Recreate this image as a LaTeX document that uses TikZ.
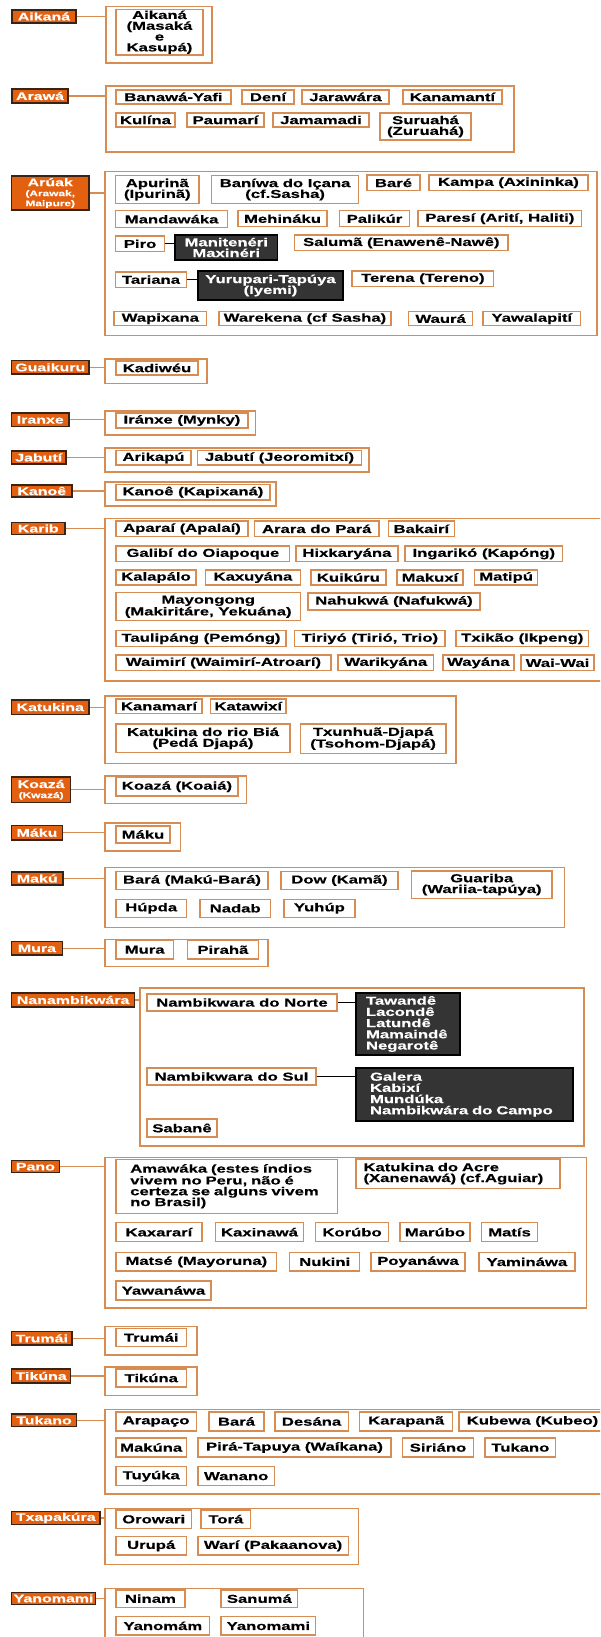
\documentclass[tikz,border=0pt]{standalone}
\usepackage{fontspec}
\newfontfamily\tfont[FakeStretch=1.45,FakeBold=0.4]{Liberation Sans Bold}
\definecolor{tanc}{RGB}{214,140,82}
\definecolor{orgc}{RGB}{226,96,16}
\definecolor{lbc}{RGB}{58,34,20}
\definecolor{dkc}{RGB}{52,52,52}
\tikzset{
 ibox/.style={draw=tanc,line width=1.4pt,fill=white,inner sep=1pt,text=black,align=center,font=\tfont\fontsize{11.5}{10.8}\selectfont},
 dbox/.style={draw=black,line width=1.6pt,fill=dkc,text=white},
 labbox/.style={draw=lbc,line width=1.2pt,fill=orgc,text=white,inner sep=1pt,align=center,font=\tfont\fontsize{11}{10}\selectfont},
 grpbox/.style={draw=tanc,line width=1.2pt,inner sep=0pt},
 conn/.style={draw=tanc,line width=1.2pt},
 dconn/.style={draw=black,line width=1.3pt},
}
\newcommand\Ibox[7][]{\node[ibox,minimum width={#5-#3},minimum height={#6-#4},#1] (#2) at ({(#3+#5)/2},{(#4+#6)/2}) {#7};}
\newcommand\Gbox[5]{\node[grpbox,minimum width={#4-#2},minimum height={#5-#3}] (#1) at ({(#2+#4)/2},{(#3+#5)/2}) {};}
\newcommand\Lbox[6]{\node[labbox,minimum width={#4-#2},minimum height={#5-#3}] (#1) at ({(#2+#4)/2},{(#3+#5)/2}) {#6};}
\newcommand\Conn[2]{\draw[conn] (#1.east) -- (#1.east -| #2.west);}
\newcommand\smallt{\fontsize{8.2}{7.5}\selectfont}
\begin{document}
\begin{tikzpicture}[x=1pt,y=-1pt]
\useasboundingbox (0,0) rectangle (600,1637);
\fill[white] (0,0) rectangle (600,1637);
\clip (0,0) rectangle (600,1637);

% Aikana
\Gbox{gA}{106}{6.7}{212}{63}
\Lbox{lA}{12}{10}{76}{23}{Aikaná}
\Ibox{a1}{116}{9.3}{203}{55}{Aikaná\\(Masaká\\e\\Kasupá)}
\Conn{lA}{gA}

% Arawa
\Gbox{gB}{106}{86}{514}{152}
\Lbox{lB}{12}{89}{68}{103}{Arawá}
\Ibox{b1}{116}{90}{231}{104}{Banawá-Yafi}
\Ibox{b2}{242}{90}{294}{104}{Dení}
\Ibox{b3}{302}{90}{389}{104}{Jarawára}
\Ibox{b4}{403}{90}{502}{104}{Kanamantí}
\Ibox{b5}{116}{113}{175}{127}{Kulína}
\Ibox{b6}{187}{113}{264}{127}{Paumarí}
\Ibox{b7}{273}{113}{369}{127}{Jamamadi}
\Ibox{b8}{380}{113}{471}{140}{Suruahá\\(Zuruahá)}
\Conn{lB}{gB}

% Aruak
\Gbox{gC}{105}{171.7}{597}{335.7}
\Lbox{lC}{11.5}{176}{89}{210}{Arúak\\{\smallt(Arawak,}\\{\smallt Maipure)}}
\Ibox{c1}{115.6}{175.7}{199}{203.3}{Apurinã\\(Ipurinã)}
\Ibox{c2}{211.6}{175.7}{358.6}{203.3}{Baníwa do Içana\\(cf.Sasha)}
\Ibox{c3}{367}{175}{420}{190.7}{Baré}
\Ibox{c4}{429}{175}{588}{190.7}{Kampa (Axininka)}
\Ibox{c5}{115.6}{210.7}{227.7}{227.7}{Mandawáka}
\Ibox{c6}{238}{210.7}{327}{226.7}{Mehináku}
\Ibox{c7}{339.5}{210.7}{409.5}{226.7}{Palikúr}
\Ibox{c8}{418}{210.7}{581.7}{226.7}{Paresí (Arití, Haliti)}
\Ibox{c9}{115.6}{236}{164.6}{251.7}{Piro}
\Ibox[dbox]{c10}{175}{235}{277.5}{260}{Manitenéri\\Maxinéri}
\Ibox{c11}{294.7}{235}{508}{250.7}{Salumã (Enawenê-Nawê)}
\Ibox{c12}{115.6}{272}{186.4}{287.3}{Tariana}
\Ibox[dbox]{c13}{198}{271}{343}{300}{Yurupari-Tapúya\\(Iyemi)}
\Ibox{c14}{352}{271}{493.7}{286.7}{Terena (Tereno)}
\Ibox{c15}{114}{311.7}{206.7}{325.7}{Wapixana}
\Ibox{c16}{219}{311.7}{391}{325.7}{Warekena (cf Sasha)}
\Ibox{c17}{408.7}{311.7}{472.6}{325.7}{Waurá}
\Ibox{c18}{483}{311.7}{580.6}{325.7}{Yawalapití}
\Conn{lC}{gC}
\draw[dconn] (c9.east) -- (c9.east -| c10.west);
\draw[dconn] (c12.east) -- (c12.east -| c13.west);

% Guaikuru
\Gbox{gD}{105}{359}{207}{383.3}
\Lbox{lD}{11.5}{360.7}{89}{374}{Guaikuru}
\Ibox{d1}{116}{361}{198}{375}{Kadiwéu}
\Conn{lD}{gD}

% Iranxe
\Gbox{gE}{105}{411}{255.6}{435}
\Lbox{lE}{11.5}{413}{69}{426.7}{Iranxe}
\Ibox{e1}{116}{413}{248}{428}{Iránxe (Mynky)}
\Conn{lE}{gE}

% Jabuti
\Gbox{gF}{105}{448}{369}{472}
\Lbox{lF}{11.5}{451}{66}{464}{Jabutí}
\Ibox{f1}{116}{450.7}{191}{465}{Arikapú}
\Ibox{f2}{197.5}{450.7}{361.6}{465}{Jabutí (Jeoromitxí)}
\Conn{lF}{gF}

% Kanoe
\Gbox{gG}{105}{482}{276}{506}
\Lbox{lG}{11.5}{485}{72}{497}{Kanoê}
\Ibox{g1}{116}{484.5}{270}{500}{Kanoê (Kapixaná)}
\Conn{lG}{gG}

% Karib
\Gbox{gH}{105}{518.3}{620}{681}
\Lbox{lH}{11.5}{522.7}{65}{534.3}{Karib}
\Ibox{h1}{116}{521}{248}{536.7}{Aparaí (Apalaí)}
\Ibox{h2}{254.5}{521}{379}{536.7}{Arara do Pará}
\Ibox{h3}{388.4}{521}{454.3}{536.7}{Bakairí}
\Ibox{h4}{116}{546}{289.7}{561.7}{Galibí do Oiapoque}
\Ibox{h5}{295.8}{546}{398}{561.7}{Hixkaryána}
\Ibox{h6}{405}{546}{562.6}{561.7}{Ingarikó (Kapóng)}
\Ibox{h7}{116}{570}{196}{585}{Kalapálo}
\Ibox{h8}{205.5}{570}{300.4}{585}{Kaxuyána}
\Ibox{h9}{311}{570}{385.8}{585}{Kuikúru}
\Ibox{h10}{396.9}{570}{463}{585}{Makuxí}
\Ibox{h11}{474.6}{570}{537.7}{585}{Matipú}
\Ibox{h12}{116}{592.7}{300.4}{620.7}{Mayongong\\(Makiritáre, Yekuána)}
\Ibox{h13}{308}{593}{480}{610}{Nahukwá (Nafukwá)}
\Ibox{h14}{116}{630.7}{286}{646.7}{Taulipáng (Pemóng)}
\Ibox{h15}{294.7}{630.7}{445}{646.7}{Tiriyó (Tirió, Trio)}
\Ibox{h16}{456}{630.7}{588.6}{646.7}{Txikão (Ikpeng)}
\Ibox{h17}{116}{655}{331}{670.7}{Waimirí (Waimirí-Atroarí)}
\Ibox{h18}{338}{655}{433.6}{670.7}{Warikyána}
\Ibox{h19}{442.8}{655}{514}{670.7}{Wayána}
\Ibox{h20}{521}{655}{594}{670.7}{Wai-Wai}
\Conn{lH}{gH}

% Katukina
\Gbox{gI}{105}{696}{456}{763.3}
\Lbox{lI}{11.5}{700}{89}{714.3}{Katukina}
\Ibox{i1}{116}{699}{202}{713.3}{Kanamarí}
\Ibox{i2}{210.5}{699}{286}{713.3}{Katawixí}
\Ibox{i3}{116}{724}{290}{752.7}{Katukina do rio Biá\\(Pedá Djapá)}
\Ibox{i4}{300.4}{724}{445.8}{753.3}{Txunhuã-Djapá\\(Tsohom-Djapá)}
\Conn{lI}{gI}

% Koaza
\Gbox{gJ}{105}{776}{246.8}{803.3}
\Lbox{lJ}{11.5}{777}{70.8}{802.7}{Koazá\\{\smallt(Kwazá)}}
\Ibox{j1}{116}{777.3}{238}{796}{Koazá (Koaiá)}
\Conn{lJ}{gJ}

% Maku
\Gbox{gK}{105}{823}{180.6}{851}
\Lbox{lK}{11.5}{825.5}{62.4}{840}{Máku}
\Ibox{k1}{116}{826}{170}{843}{Máku}
\Conn{lK}{gK}

% Makú
\Gbox{gL}{105}{867.3}{564.5}{927.3}
\Lbox{lL}{11.5}{872}{63}{885}{Makú}
\Ibox{m1}{116}{871.7}{268}{889.3}{Bará (Makú-Bará)}
\Ibox{m2}{281}{871.7}{398}{889.3}{Dow (Kamã)}
\Ibox{m3}{411.4}{871}{552}{898.3}{Guariba\\(Wariia-tapúya)}
\Ibox{m4}{116}{899.3}{186.4}{917.3}{Húpda}
\Ibox{m5}{199.8}{899.3}{270.6}{917.3}{Nadab}
\Ibox{m6}{284}{899.3}{354.8}{917.3}{Yuhúp}
\Conn{lL}{gL}

% Mura
\Gbox{gM}{105}{939.3}{268}{966.7}
\Lbox{lM}{11.5}{941.7}{62.4}{955}{Mura}
\Ibox{n1}{116}{940.5}{173.4}{959}{Mura}
\Ibox{n2}{187.5}{940.5}{258.3}{959}{Pirahã}
\Conn{lM}{gM}

% Nanambikwara
\Gbox{gN}{140}{988}{584}{1146}
\Lbox{lN}{11.5}{993}{134.7}{1007}{Nanambikwára}
\Ibox{o1}{147}{994}{337}{1011}{Nambikwara do Norte}
\Ibox[dbox,align=left,text width=84pt,inner xsep=10pt,font=\tfont\fontsize{11.5}{11.2}\selectfont]{o2}{356}{993}{460}{1055}{Tawandê\\Lacondê\\Latundê\\Mamaindê\\Negarotê}
\Ibox{o3}{147}{1068}{316}{1085}{Nambikwara do Sul}
\Ibox[dbox,align=left,text width=189pt,inner xsep=14pt,font=\tfont\fontsize{11.5}{11.2}\selectfont]{o4}{356}{1068}{573}{1121}{Galera\\Kabixí\\Mundúka\\Nambikwára do Campo}
\Ibox{o5}{147}{1119}{217}{1137}{Sabanê}
\Conn{lN}{gN}
\draw[dconn] (o1.east) -- (o1.east -| o2.west);
\draw[dconn] (o3.east) -- (o3.east -| o4.west);

% Pano
\Gbox{gP}{105}{1157.3}{586.7}{1308}
\Lbox{lP}{11.5}{1160.7}{59.3}{1172.7}{Pano}
\Ibox[align=left,text width=193pt,inner xsep=14pt]{p1}{116}{1159.3}{337.5}{1213.3}{Amawáka (estes índios\\vivem no Peru, não é\\certeza se alguns vivem\\no Brasil)}
\Ibox[align=left,text width=189pt,inner xsep=7.5pt]{p2}{356}{1159}{560}{1188.3}{Katukina do Acre\\(Xanenawá) (cf.Aguiar)}
\Ibox{p3}{116}{1222.7}{202}{1241.7}{Kaxararí}
\Ibox{p4}{215.5}{1222.7}{303.5}{1241.7}{Kaxinawá}
\Ibox{p5}{315.7}{1222.7}{388.4}{1241.7}{Korúbo}
\Ibox{p6}{400}{1222.7}{470}{1241.7}{Marúbo}
\Ibox{p7}{481.4}{1222.7}{537.7}{1241.7}{Matís}
\Ibox{p8}{116}{1252.7}{276.7}{1271}{Matsé (Mayoruna)}
\Ibox{p9}{289.7}{1252.7}{359.7}{1271}{Nukini}
\Ibox{p10}{371}{1252.7}{465}{1271}{Poyanáwa}
\Ibox{p11}{479}{1252.7}{574.8}{1271}{Yamináwa}
\Ibox{p12}{116}{1281}{211}{1300}{Yawanáwa}
\Conn{lP}{gP}

% Trumai
\Gbox{gQ}{105}{1326.7}{197}{1355}
\Lbox{lQ}{11.5}{1331.7}{72}{1345}{Trumái}
\Ibox{q1}{116}{1328.3}{186.4}{1346.7}{Trumái}
\Conn{lQ}{gQ}

% Tikuna
\Gbox{gR}{105}{1367}{197}{1395.7}
\Lbox{lR}{11.5}{1369}{70.8}{1383}{Tikúna}
\Ibox{r1}{116}{1369}{186.4}{1387}{Tikúna}
\Conn{lR}{gR}

% Tukano
\Gbox{gS}{105}{1409.3}{620}{1494}
\Lbox{lS}{11.5}{1414}{76.5}{1426.7}{Tukano}
\Ibox{s1}{116}{1412}{196.3}{1431}{Arapaço}
\Ibox{s2}{209}{1412}{264}{1431}{Bará}
\Ibox{s3}{274.8}{1412}{348.3}{1431}{Desána}
\Ibox{s4}{359.7}{1412}{452.7}{1431}{Karapanã}
\Ibox{s5}{459}{1412}{606}{1431}{Kubewa (Kubeo)}
\Ibox{s6}{116}{1438}{186.4}{1457}{Makúna}
\Ibox{s7}{198}{1438}{391}{1457}{Pirá-Tapuya (Waíkana)}
\Ibox{s8}{402.6}{1438}{473.4}{1457}{Siriáno}
\Ibox{s9}{485}{1438}{555.7}{1457}{Tukano}
\Ibox{s10}{116}{1466.7}{186.4}{1485.7}{Tuyúka}
\Ibox{s11}{198}{1466.7}{274.4}{1485.7}{Wanano}
\Conn{lS}{gS}

% Txapakura
\Gbox{gT}{105}{1508.3}{358.6}{1564.3}
\Lbox{lT}{11.5}{1511.7}{100}{1524.3}{Txapakúra}
\Ibox{t1}{116}{1510}{191.4}{1528.3}{Orowari}
\Ibox{t2}{201}{1510}{250.7}{1528.3}{Torá}
\Ibox{t3}{116}{1536.7}{186.4}{1555}{Urupá}
\Ibox{t4}{198}{1536.7}{348.3}{1555}{Warí (Pakaanova)}
\Conn{lT}{gT}

% Yanomami
\Gbox{gU}{105}{1588.3}{363.6}{1660}
\Lbox{lU}{11.5}{1592.3}{95.7}{1604.3}{Yanomami}
\Ibox{u1}{116}{1590}{184.8}{1607.3}{Ninam}
\Ibox{u2}{221}{1590}{297.7}{1607.3}{Sanumá}
\Ibox{u3}{116}{1616.7}{209.7}{1635}{Yanomám}
\Ibox{u4}{221}{1616.7}{315.7}{1635}{Yanomami}
\Conn{lU}{gU}
\end{tikzpicture}
\end{document}
